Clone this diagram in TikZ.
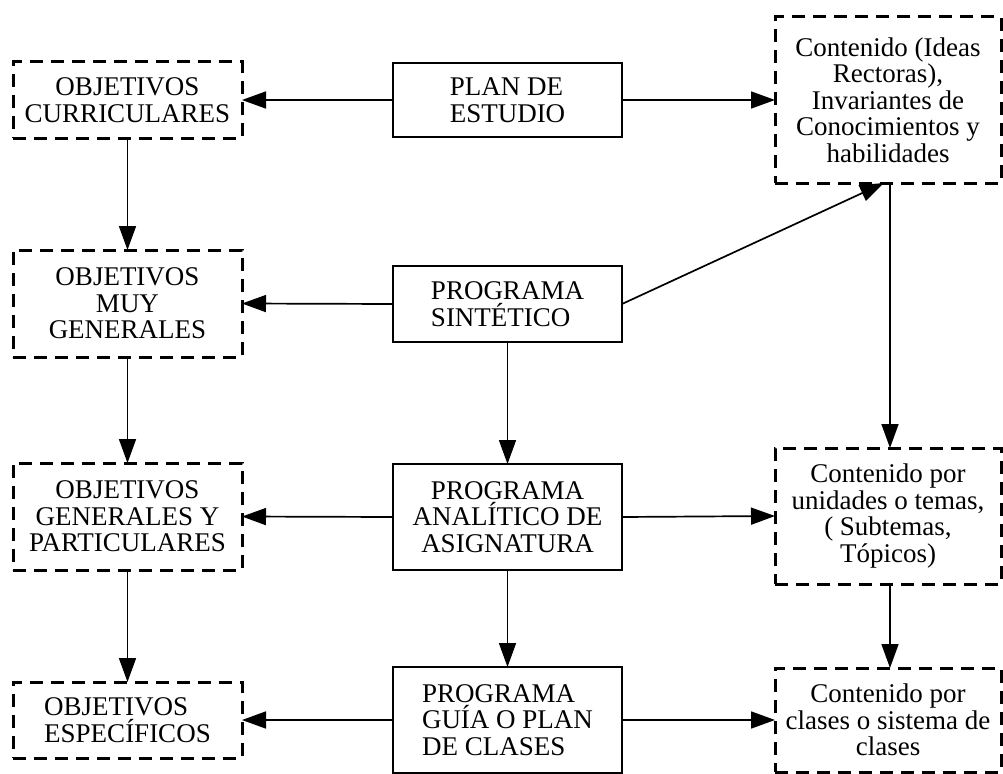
\documentclass[tikz,border=0pt]{standalone}
\usepackage{fontspec}
\setmainfont{Liberation Serif}
\usetikzlibrary{arrows.meta}
\begin{document}
\begin{tikzpicture}[x=1pt,y=-1pt,
  base/.style={rectangle,inner sep=0pt,outer sep=0pt,
    font=\fontsize{27}{26.5}\selectfont},
  solidbox/.style={base,draw,line width=1.7pt,minimum width=229pt},
  dashbox/.style={base,draw,line width=3pt,dash pattern=on 13pt off 8pt,minimum width=229pt},
  link/.style={line width=1.7pt,-{Triangle[length=24pt,width=17pt]}}
]
\useasboundingbox (0,0) rectangle (1003,773);

% left column: objectives
\node[dashbox,minimum height=76pt,align=center] (curr) at (127.5,100) {OBJETIVOS\\CURRICULARES};
\node[dashbox,minimum height=107pt,align=center] (muy) at (127.5,303.5) {OBJETIVOS\\MUY\\GENERALES};
\node[dashbox,minimum height=107pt,align=center] (gen) at (127.5,516.5) {OBJETIVOS\\GENERALES Y\\PARTICULARES};
\node[dashbox,minimum height=76pt,align=left] (esp) at (127.5,720) {OBJETIVOS\\ESPECÍFICOS};

% centre column: documents
\node[solidbox,minimum height=74pt,align=left] (plan) at (507.5,100) {PLAN DE\\ESTUDIO};
\node[solidbox,minimum height=76pt,align=left] (sint) at (507.5,304) {PROGRAMA\\SINTÉTICO};
\node[solidbox,minimum height=106pt,align=center] (anal) at (507.5,517) {PROGRAMA\\ANALÍTICO DE\\ASIGNATURA};
\node[solidbox,minimum height=106pt,align=left] (guia) at (507.5,720) {PROGRAMA\\GUÍA O PLAN\\DE CLASES};

% right column: contents
\node[dashbox,minimum width=226pt,minimum height=166pt,align=center] (ideas) at (888,100)
  {Contenido (Ideas\\Rectoras),\\Invariantes de\\Conocimientos y\\habilidades};
\node[dashbox,minimum width=226pt,minimum height=136pt,align=center] (unid) at (888,516)
  {Contenido por\\unidades o temas,\\( Subtemas,\\Tópicos)};
\node[dashbox,minimum width=226pt,minimum height=104pt,align=center] (clas) at (888,720)
  {Contenido por\\clases o sistema de\\clases};

% horizontal links
\draw[link] (plan.west) -- (curr.east);
\draw[link] (plan.east) -- (ideas.west);
\draw[link] (sint.west) -- (muy.east);
\draw[link] (anal.west) -- (gen.east);
\draw[link] (anal.east) -- (unid.west);
\draw[link] (guia.west) -- (esp.east);
\draw[link] (guia.east) -- (clas.west);

% vertical links
\draw[link] (curr.south) -- (muy.north);
\draw[link] (muy.south) -- (gen.north);
\draw[link] (gen.south) -- (esp.north);
\draw[link] (sint.south) -- (anal.north);
\draw[link] (anal.south) -- (guia.north);
\draw[link] ([xshift=2pt]ideas.south) -- ([xshift=2pt]unid.north);
\draw[link] ([xshift=2pt]unid.south) -- ([xshift=2pt]clas.north);

% diagonal link
\draw[link] (sint.east) -- ([xshift=-4pt]ideas.south);
\end{tikzpicture}
\end{document}
